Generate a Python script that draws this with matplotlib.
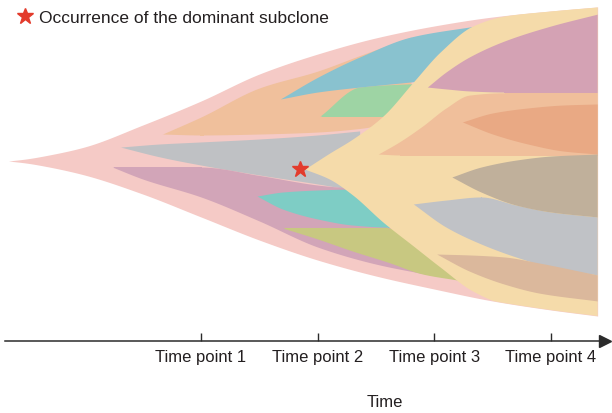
import numpy as np
import matplotlib
matplotlib.use("Agg")
import matplotlib.pyplot as plt
from matplotlib.lines import Line2D

plt.rcParams["font.family"] = ["Liberation Sans", "DejaVu Sans"]

# ── clone boundaries (time, upper / lower edge in relative size units) ──────
root_t = [-0.65, -0.5, -0.3, 0.0, 0.5, 1.0, 1.5, 2.0, 2.5, 3.0, 3.5, 4.0, 4.4]
root_top = [0, 1.3, 3.9, 9.0, 23.2, 38.7, 56.1, 69.0, 79.4, 87.1, 92.9, 96.8, 99.4]
root_bot = [0, -1.3, -3.9, -9.0, -21.3, -36.1, -51.0, -63.9, -74.2, -82.6, -90.3, -96.1, -100]

orange_t = [0.67, 1.0, 1.5, 2.0, 2.36, 2.8]
orange_top = [17.4, 28.4, 47.1, 58.0, 68.0, 80.0]
orange_bot = [17.4, 16.8, 17.4, 18.7, 21.0, 27.1]

gray_t = [0.31, 0.65, 1.0, 1.5, 2.0, 2.36]
gray_top = [9.0, 11.0, 12.3, 14.2, 16.8, 19.4]
gray_bot = [9.0, 2.6, -2.6, -9.0, -14.8, -19.4]

purple_t = [0.24, 0.5, 1.0, 1.5, 2.0, 2.5, 3.0]
purple_top = [-3.9, -3.9, -3.9, -9.3, -15.5, -19.0, -24.5]
purple_bot = [-3.9, -11.6, -23.2, -38.7, -55.5, -66.5, -74.0]

teal_t = [1.48, 1.7, 2.0, 2.3, 2.6, 2.8]
teal_top = [-22.6, -20.0, -18.7, -18.1, -19.4, -24.5]
teal_bot = [-22.6, -31.0, -37.4, -41.3, -42.6, -42.6]

olive_t = [1.70, 2.0, 2.3, 2.6, 2.9, 3.2]
olive_top = [-43.2, -43.2, -43.2, -43.2, -50.3, -63.2]
olive_bot = [-43.2, -50.3, -58.1, -65.2, -72.9, -76.8]

green_t = [2.02, 2.36, 2.7, 3.0]
green_top = [29.0, 47.7, 49.5, 50.3]
green_bot = [29.0, 29.0, 29.0, 29.0]

blue_t = [1.68, 2.0, 2.36, 2.8, 3.39]
blue_top = [40.0, 54.0, 67.1, 80.0, 87.5]
blue_bot = [40.0, 44.5, 47.7, 51.0, 56.1]

# dominant subclone
yellow_t = [1.89, 2.1, 2.3, 2.56, 2.82, 3.05, 3.33, 3.6, 4.0, 4.4]
yellow_top = [-5.2, 5.0, 14.2, 29.0, 51.0, 70.3, 87.1, 93.5, 96.8, 99.4]
yellow_bot = [-5.2, -11.6, -21.9, -39.4, -54.8, -68.4, -83.9, -92.3, -96.8, -100]

mauve_t = [2.94, 3.1, 3.3, 3.6, 4.0, 4.4]
mauve_top = [47.7, 57.4, 67.1, 77.4, 87.1, 94.8]
mauve_bot = [47.7, 46.5, 45.2, 44.5, 44.5, 44.5]

peach_t = [2.52, 2.7, 2.9, 3.1, 3.3, 3.6, 4.0, 4.4]
peach_top = [4.5, 12.3, 22.6, 34.2, 42.5, 44.0, 44.0, 44.0]
peach_bot = [4.5, 3.9, 3.9, 3.9, 3.9, 3.9, 3.9, 3.9]

coral_t = [3.24, 3.5, 3.8, 4.1, 4.4]
coral_top = [25.2, 31.0, 34.2, 36.1, 36.8]
coral_bot = [25.2, 17.4, 11.0, 6.5, 4.5]

taupe_t = [3.15, 3.4, 3.7, 4.0, 4.4]
taupe_top = [-10.3, -3.9, 0.6, 3.2, 4.5]
taupe_bot = [-10.3, -20.0, -28.4, -32.9, -36.1]

slate_t = [2.82, 3.1, 3.4, 3.7, 4.0, 4.4]
slate_top = [-27.7, -25.2, -23.2, -28.4, -32.9, -36.1]
slate_bot = [-27.7, -42.6, -53.5, -61.9, -68.4, -73.5]

brown_t = [3.02, 3.3, 3.6, 3.9, 4.4]
brown_top = [-60.0, -60.6, -61.9, -65.8, -73.5]
brown_bot = [-60.0, -71.0, -79.4, -85.2, -90.3]

star_t = [1.85]
star_v = [-5.2]

time_ticks = [1, 2, 3, 4]
time_labels = ["Time point 1", "Time point 2", "Time point 3", "Time point 4"]


def pchip(tc, yc, t):
    """monotone cubic through the control values"""
    tc = np.asarray(tc, float)
    yc = np.asarray(yc, float)
    h = np.diff(tc)
    d = np.diff(yc) / h
    m = np.zeros_like(yc)
    for k in range(1, len(yc) - 1):
        if d[k - 1] * d[k] > 0:
            w1 = 2 * h[k] + h[k - 1]
            w2 = h[k] + 2 * h[k - 1]
            m[k] = (w1 + w2) / (w1 / d[k - 1] + w2 / d[k])
    m[0], m[-1] = d[0], d[-1]
    i = np.clip(np.searchsorted(tc, t) - 1, 0, len(h) - 1)
    s = (t - tc[i]) / h[i]
    return ((2 * s**3 - 3 * s**2 + 1) * yc[i] + (s**3 - 2 * s**2 + s) * h[i] * m[i]
            + (-2 * s**3 + 3 * s**2) * yc[i + 1] + (s**3 - s**2) * h[i] * m[i + 1])


fig = plt.figure(figsize=(6.12, 4.14), dpi=100)
ax = fig.add_axes([5 / 612, 72 / 414, 600 / 612, 342 / 414])
ax.set_xlim(-0.680, 4.463)
ax.set_ylim(-116.1, 104.5)

layers = [
    (root_t, root_top, root_bot, "#f5cac6"),
    (orange_t, orange_top, orange_bot, "#f0c09c"),
    (gray_t, gray_top, gray_bot, "#bfc1c4"),
    (purple_t, purple_top, purple_bot, "#d2a5b8"),
    (teal_t, teal_top, teal_bot, "#7ecdc5"),
    (olive_t, olive_top, olive_bot, "#c8c881"),
    (green_t, green_top, green_bot, "#9ed4a4"),
    (blue_t, blue_top, blue_bot, "#89c2cf"),
    (yellow_t, yellow_top, yellow_bot, "#f5dbaa"),
    (mauve_t, mauve_top, mauve_bot, "#d4a2b4"),
    (peach_t, peach_top, peach_bot, "#f0bf9b"),
    (coral_t, coral_top, coral_bot, "#e9a984"),
    (slate_t, slate_top, slate_bot, "#c0c2c6"),
    (taupe_t, taupe_top, taupe_bot, "#c0b09b"),
    (brown_t, brown_top, brown_bot, "#dbb89c"),
]

envelope = None
for tc, top, bot, col in layers:
    tt = np.linspace(tc[0], tc[-1], 400)
    poly = ax.fill_between(tt, pchip(tc, top, tt), pchip(tc, bot, tt),
                           color=col, lw=0, zorder=2)
    if envelope is None:
        envelope = poly
    else:
        poly.set_clip_path(envelope.get_paths()[0], ax.transData)

ax.plot(star_t, star_v, marker="*", ms=12, color="#e33b2c", ls="none", zorder=5)

# time axis
for side in ["top", "right", "left"]:
    ax.spines[side].set_visible(False)
ax.spines["bottom"].set_color("#2b2b2b")
ax.spines["bottom"].set_linewidth(1.1)
ax.set_yticks([])
ax.set_xticks(time_ticks)
ax.set_xticklabels(time_labels)
ax.tick_params(axis="x", direction="in", length=6, width=1.0, color="#2b2b2b",
               labelcolor="#231f20", labelsize=12, pad=6)
ax.plot([1.0], [0.0], marker=">", ms=8, color="#2b2b2b", transform=ax.transAxes,
        clip_on=False)
ax.set_xlabel("Time", fontsize=12, color="#231f20")
ax.xaxis.set_label_coords(380 / 600, -0.155)

handle = Line2D([], [], marker="*", ms=12, color="#e33b2c", ls="none")
ax.legend([handle], ["Occurrence of the dominant subclone"], loc="center left",
          bbox_to_anchor=(18 / 612, 1 - 18 / 414), bbox_transform=fig.transFigure,
          frameon=False, fontsize=12.5, handlelength=0.8, handletextpad=0.41,
          borderpad=0, borderaxespad=0, labelcolor="#231f20")

fig.savefig("out.png", dpi=100)
